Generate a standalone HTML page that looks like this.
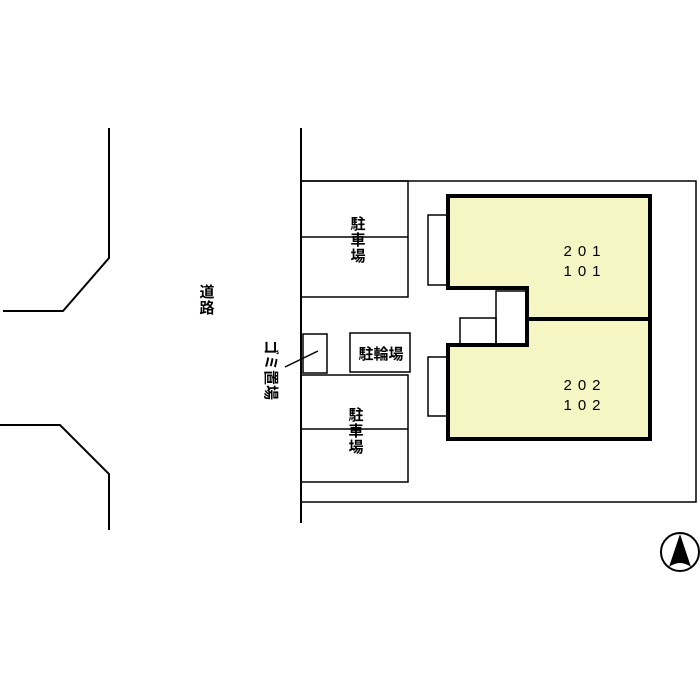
<!DOCTYPE html>
<html><head><meta charset="utf-8"><style>
html,body{margin:0;padding:0;background:#fff;}
svg{display:block;}
text{font-family:"Liberation Sans","Noto Sans CJK JP",sans-serif;fill:#000;}
</style></head><body>
<svg width="700" height="700" viewBox="0 0 700 700" xmlns="http://www.w3.org/2000/svg">
<g fill="none" stroke="#000" stroke-width="2">
<polyline points="109,128 109,258 63,311 3,311"/>
<polyline points="0,425 60,425 109,474 109,530"/>
<line x1="301" y1="128" x2="301" y2="523"/>
<polyline points="301,181 696,181 696,502 301,502" stroke-width="1.5"/>
<rect x="301" y="181" width="107" height="116" stroke-width="1.5"/>
<line x1="301" y1="237" x2="408" y2="237" stroke-width="1.5"/>
<rect x="301" y="375" width="107" height="107" stroke-width="1.5"/>
<line x1="301" y1="429" x2="408" y2="429" stroke-width="1.5"/>
<rect x="350" y="333" width="60" height="39" stroke-width="1.5"/>
<rect x="303" y="334" width="24" height="39" stroke-width="1.5"/>
<line x1="285" y1="367" x2="318" y2="351" stroke-width="1.5"/>
<rect x="428" y="215" width="20" height="70" stroke-width="1.5"/>
<rect x="428" y="357" width="20" height="59" stroke-width="1.5"/>
<rect x="496" y="291" width="30" height="54" stroke-width="1.5"/>
<rect x="460" y="318" width="36" height="27" stroke-width="1.5"/>
</g>
<polygon points="448,196 650,196 650,439 448,439 448,345 527,345 527,288 448,288" fill="#f6f5c4" stroke="#000" stroke-width="4"/>
<line x1="527" y1="319" x2="650" y2="319" stroke="#000" stroke-width="4"/>
<g font-size="15" font-weight="bold" text-anchor="middle">
<text x="358" y="229">駐</text><text x="358" y="245">車</text><text x="358" y="261">場</text>
<text x="356" y="420">駐</text><text x="356" y="436">車</text><text x="356" y="452">場</text>
<text x="207" y="297">道</text><text x="207" y="313">路</text>
<text x="381" y="359">駐輪場</text>
</g>
<text x="0" y="0" font-size="15" font-weight="bold" transform="translate(266,340) rotate(90)">ゴミ置場</text>
<g font-size="15" text-anchor="middle" letter-spacing="6">
<text x="585" y="256">201</text><text x="585" y="276">101</text>
<text x="585" y="390">202</text><text x="585" y="410">102</text>
</g>
<circle cx="680" cy="552" r="19" fill="none" stroke="#000" stroke-width="2"/>
<path d="M680,534 L669,567 Q680,559 691,567 Z" fill="#000"/>
</svg>
</body></html>
